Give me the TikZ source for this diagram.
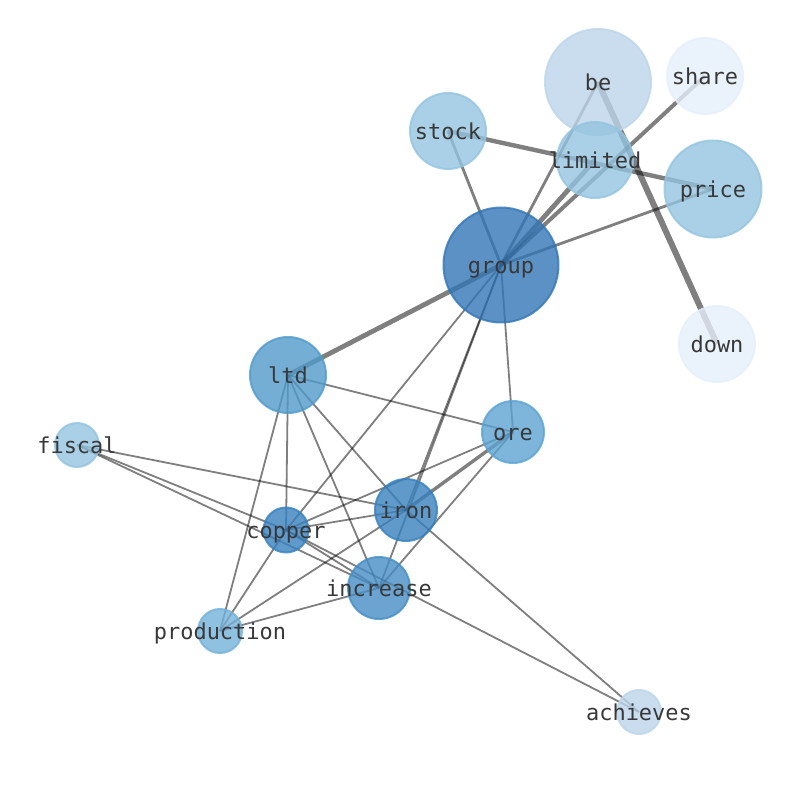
\documentclass[tikz,border=0pt]{standalone}
\usepackage{fontspec}
\setmonofont{DejaVu Sans Mono}
\usetikzlibrary{backgrounds}
\definecolor{blueG}{HTML}{3276B5}
\definecolor{blueI}{HTML}{3781BE}
\definecolor{blueC}{HTML}{468DC4}
\definecolor{blueL}{HTML}{519ACA}
\definecolor{blueO}{HTML}{5CA2D2}
\definecolor{blueP}{HTML}{73B1D9}
\definecolor{blueS}{HTML}{94C4E0}
\definecolor{blueB}{HTML}{BCD5EA}
\definecolor{blueW}{HTML}{E5EFFA}
\tikzstyle{word}=[circle,inner sep=0pt,line width=0.5mm,fill opacity=0.8,draw opacity=0.8]
\tikzstyle{tag}=[inner sep=0pt,text height=0.76em,text depth=0.24em,yshift=-1.2mm,text=black!78,font=\ttfamily\fontsize{15.6}{18}\selectfont]
\tikzstyle{link}=[draw=black,draw opacity=0.5,line width=0.45mm]
\tikzstyle{firm}=[link,line width=0.7mm]
\tikzstyle{heavy}=[link,line width=1.2mm]

\begin{document}
\begin{tikzpicture}[x=0.25mm,y=-0.25mm]
\useasboundingbox (0,0) rectangle (794,790);
%words
\node[word,fill=blueB,draw=blueB,minimum size=26.5mm,label={[tag]center:be}] (be) at (598,82) {};
\node[word,fill=blueW,draw=blueW,minimum size=19mm,label={[tag]center:share}] (share) at (705,76) {};
\node[word,fill=blueS,draw=blueS,minimum size=19mm,label={[tag]center:stock}] (stock) at (448,131) {};
\node[word,fill=blueS,draw=blueS,minimum size=19mm,label={[tag]center:limited}] (limited) at (595,160) {};
\node[word,fill=blueS,draw=blueS,minimum size=24.25mm,label={[tag]center:price}] (price) at (713,189) {};
\node[word,fill=blueG,draw=blueG,minimum size=28.75mm,label={[tag]center:group}] (group) at (501,265) {};
\node[word,fill=blueW,draw=blueW,minimum size=19mm,label={[tag]center:down}] (down) at (717,344) {};
\node[word,fill=blueL,draw=blueL,minimum size=19mm,label={[tag]center:ltd}] (ltd) at (288,375) {};
\node[word,fill=blueO,draw=blueO,minimum size=15.5mm,label={[tag]center:ore}] (ore) at (513,432) {};
\node[word,fill=blueS,draw=blueS,minimum size=11mm,label={[tag]center:fiscal}] (fiscal) at (77,445) {};
\node[word,fill=blueI,draw=blueI,minimum size=15.5mm,label={[tag]center:iron}] (iron) at (406,510) {};
\node[word,fill=blueI,draw=blueI,minimum size=11.25mm,label={[tag]center:copper}] (copper) at (286,530) {};
\node[word,fill=blueC,draw=blueC,minimum size=15.5mm,label={[tag]center:increase}] (increase) at (379,588) {};
\node[word,fill=blueP,draw=blueP,minimum size=11mm,label={[tag]center:production}] (production) at (220,631) {};
\node[word,fill=blueB,draw=blueB,minimum size=11mm,label={[tag]center:achieves}] (achieves) at (639,712) {};
%links
\begin{pgfonlayer}{background}
\draw[heavy,line width=1.5mm] (be.center)--(down.center);
\draw[heavy] (group.center)--(ltd.center);
\draw[heavy] (group.center)--(limited.center);
\draw[heavy,line width=1mm] (group.center)--(share.center);
\draw[heavy,line width=1.1mm] (stock.center)--(price.center);
\draw[firm] (group.center)--(be.center);
\draw[firm] (group.center)--(price.center);
\draw[firm] (group.center)--(stock.center);
\draw[firm,line width=0.85mm] (iron.center)--(ore.center);
\draw[link] (group.center)--(iron.center);
\draw[link] (group.center)--(increase.center);
\draw[link] (group.center)--(copper.center);
\draw[link] (group.center)--(ore.center);
\draw[link] (ltd.center)--(ore.center);
\draw[link] (ltd.center)--(copper.center);
\draw[link] (ltd.center)--(production.center);
\draw[link] (ltd.center)--(increase.center);
\draw[link] (ltd.center)--(iron.center);
\draw[link] (fiscal.center)--(iron.center);
\draw[link] (fiscal.center)--(copper.center);
\draw[link] (fiscal.center)--(increase.center);
\draw[link] (copper.center)--(iron.center);
\draw[link] (copper.center)--(ore.center);
\draw[link] (copper.center)--(increase.center);
\draw[link] (copper.center)--(production.center);
\draw[link] (copper.center)--(achieves.center);
\draw[link] (iron.center)--(production.center);
\draw[link] (iron.center)--(achieves.center);
\draw[link] (ore.center)--(increase.center);
\draw[link] (increase.center)--(production.center);
\end{pgfonlayer}
\end{tikzpicture}
\end{document}
